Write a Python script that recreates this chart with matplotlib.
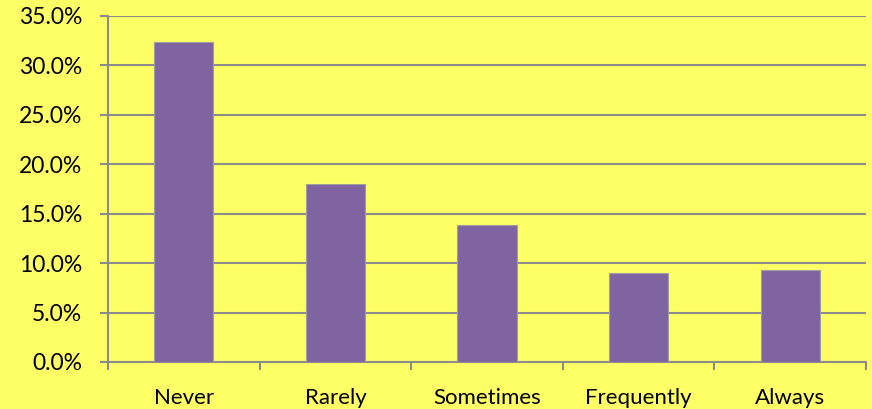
import numpy as np
import matplotlib.pyplot as plt
from matplotlib.ticker import PercentFormatter, FixedLocator

# Dữ liệu biểu đồ
categories = ["Never", "Rarely", "Sometimes", "Frequently", "Always"]
values = [32.4, 18.0, 13.9, 9.0, 9.3]   # phần trăm
yticks = [0, 5, 10, 15, 20, 25, 30, 35]

plt.rcParams['font.family'] = ['Lato', 'DejaVu Sans']

bg = "#FFFF66"
grid_color = "#8C8C8C"
bar_color = "#8064A2"

fig = plt.figure(figsize=(8.72, 4.09), dpi=100, facecolor=bg)
ax = fig.add_axes([108 / 872, 47 / 409, 758 / 872, 346 / 409])
ax.set_facecolor(bg)

x = np.arange(len(categories))
ax.bar(x, values, width=0.39, color=bar_color, edgecolor="#9E9E9E",
       linewidth=0.8, zorder=3)

ax.set_xlim(-0.5, len(categories) - 0.5)
ax.set_ylim(0, 35)
ax.set_yticks(yticks)
ax.yaxis.set_major_formatter(PercentFormatter(decimals=1))
ax.grid(axis="y", color=grid_color, linewidth=1.5, zorder=0)

# Nhãn ở giữa cột, vạch chia ở ranh giới giữa các cột
ax.set_xticks(x)
ax.set_xticklabels(categories)
ax.xaxis.set_minor_locator(FixedLocator(np.arange(-0.5, len(categories), 1)))
ax.tick_params(axis="x", which="major", length=0, pad=18.5, labelsize=16)
ax.tick_params(axis="x", which="minor", length=6, width=1.5, color=grid_color)
ax.tick_params(axis="y", length=6, width=1.5, color=grid_color, labelsize=16.5, pad=12.5)

for side in ["top", "right"]:
    ax.spines[side].set_visible(False)
for side in ["left", "bottom"]:
    ax.spines[side].set_color(grid_color)
    ax.spines[side].set_linewidth(1.5)

fig.savefig("out.png", dpi=100, facecolor=bg)
